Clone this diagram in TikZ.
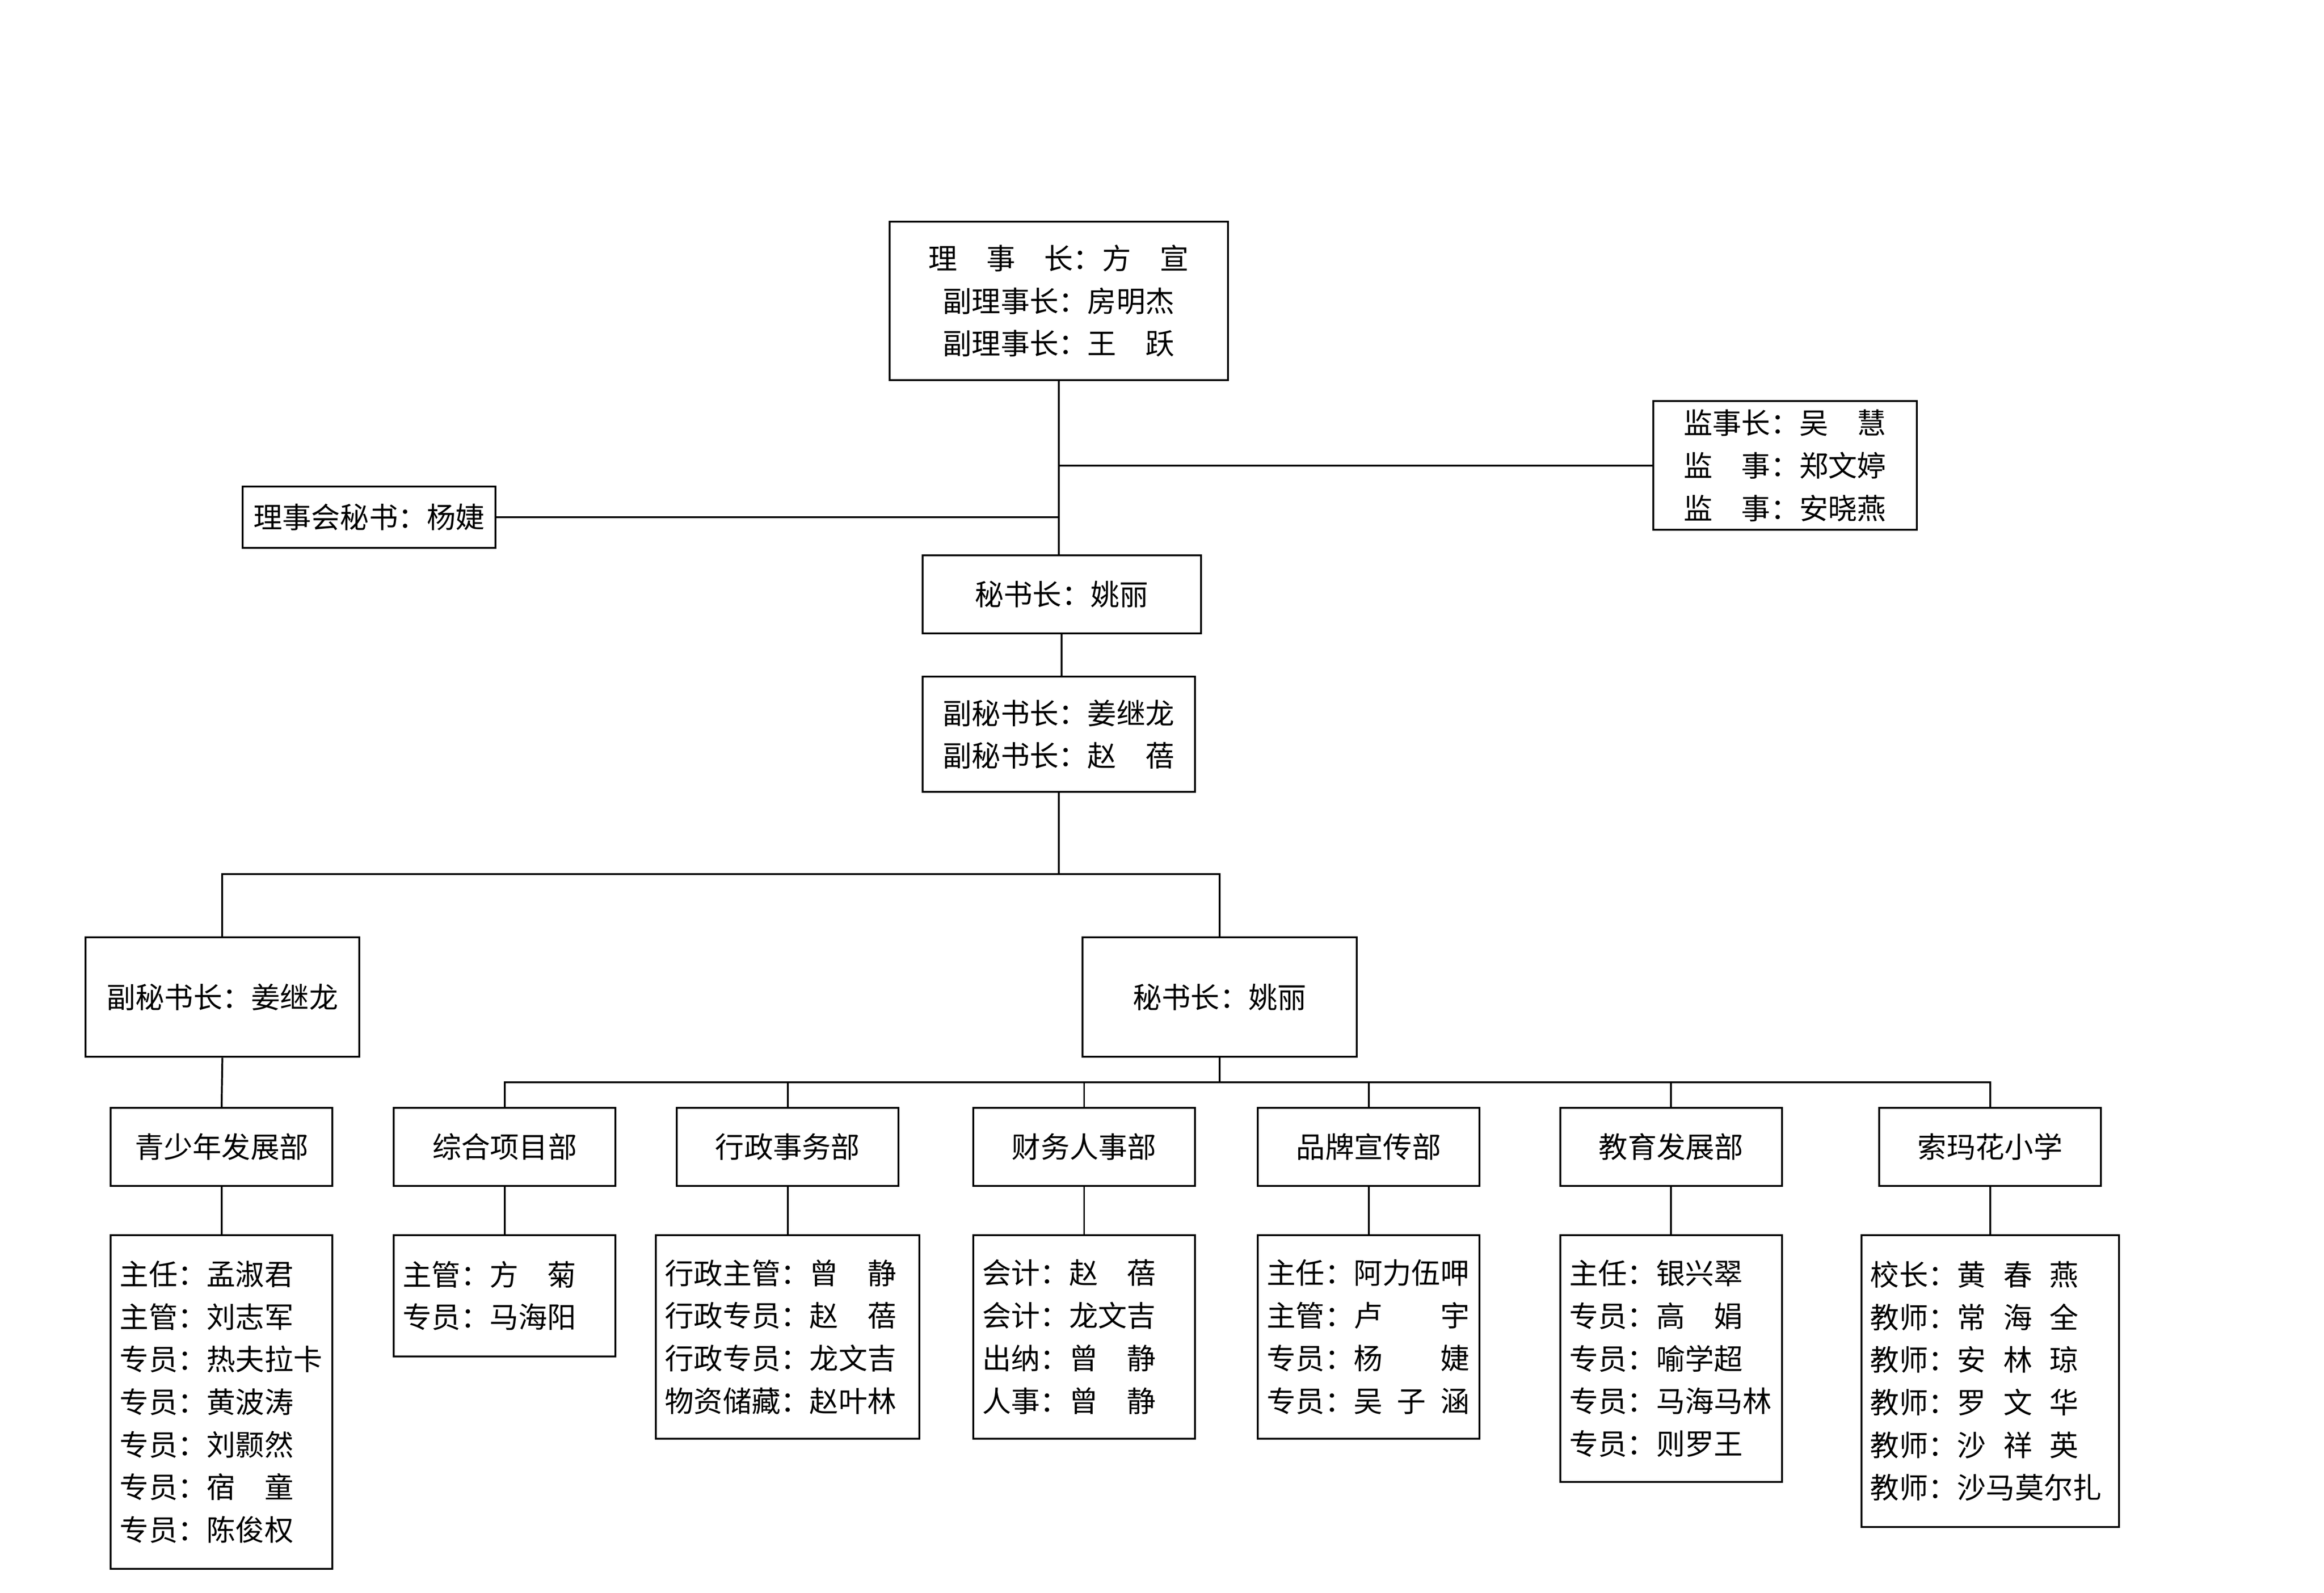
\documentclass[tikz,border=0pt]{standalone}
\usepackage{fontspec}
\setmainfont{Noto Sans CJK SC}
\begin{document}
\begin{tikzpicture}[x=0.02cm,y=-0.02cm,line width=0.7pt,
  box/.style={draw,align=center,inner sep=0pt,font=\fontsize{11pt}{16.2pt}\selectfont},
  lst/.style={draw,align=left,inner xsep=0.12cm,inner ysep=0pt,font=\fontsize{11pt}{16.2pt}\selectfont}]
\useasboundingbox (0,0) rectangle (1552,1064);
\newcommand{\hs}{\hspace{0.6em}}
\node[box,minimum width=4.52cm,minimum height=2.12cm] (top) at (707,201) {理　事　长：方　宣\\副理事长：房明杰\\副理事长：王　跃};
\node[box,minimum width=3.52cm,minimum height=1.72cm] (sup) at (1192,311) {监事长：吴　慧\\监　事：郑文婷\\监　事：安晓燕};
\node[box,minimum width=3.38cm,minimum height=0.82cm] (sec) at (246.5,345.5) {理事会秘书：杨婕};
\node[box,minimum width=3.72cm,minimum height=1.04cm] (s1) at (709,397) {秘书长：姚丽};
\node[box,minimum width=3.64cm,minimum height=1.54cm] (s2) at (707,490.5) {副秘书长：姜继龙\\副秘书长：赵　蓓};
\node[box,minimum width=3.66cm,minimum height=1.6cm] (L) at (148.5,666) {副秘书长：姜继龙};
\node[box,minimum width=3.66cm,minimum height=1.6cm] (R) at (814.5,666) {秘书长：姚丽};
\foreach \n/\x/\t in {d1/148/青少年发展部,d2/337/综合项目部,d3/526/行政事务部,d4/724/财务人事部,d5/914/品牌宣传部,d6/1116/教育发展部,d7/1329/索玛花小学}
  \node[box,minimum width=2.96cm,minimum height=1.04cm] (\n) at (\x,766) {\t};
\node[lst,text width=2.72cm,minimum height=4.46cm] (l1) at (148,936.5) {主任：孟淑君\\主管：刘志军\\专员：热夫拉卡\\专员：黄波涛\\专员：刘颢然\\专员：宿　童\\专员：陈俊权};
\node[lst,text width=2.72cm,minimum height=1.62cm] (l2) at (337,865.5) {主管：方　菊\\专员：马海阳};
\node[lst,text width=3.28cm,minimum height=2.72cm] (l3) at (526,893) {行政主管：曾　静\\行政专员：赵　蓓\\行政专员：龙文吉\\物资储藏：赵叶林};
\node[lst,text width=2.72cm,minimum height=2.72cm] (l4) at (724,893) {会计：赵　蓓\\会计：龙文吉\\出纳：曾　静\\人事：曾　静};
\node[lst,text width=2.72cm,minimum height=2.72cm] (l5) at (914,893) {主任：阿力伍呷\\主管：卢　　宇\\专员：杨　　婕\\专员：吴\hspace{0.5em}子\hspace{0.5em}涵};
\node[lst,text width=2.72cm,minimum height=3.30cm] (l6) at (1116,907.5) {主任：银兴翠\\专员：高　娟\\专员：喻学超\\专员：马海马林\\专员：则罗王};
\node[lst,text width=3.20cm,minimum height=3.90cm] (l7) at (1329,922.5) {校长：黄\hs 春\hs 燕\\教师：常\hs 海\hs 全\\教师：安\hs 林\hs 琼\\教师：罗\hs 文\hs 华\\教师：沙\hs 祥\hs 英\\教师：沙马莫尔扎};
\coordinate (v) at (top.south);
\draw (top.south) -- (top.south |- s1.north);
\draw (sup.west) -- (sup.west -| v);
\draw (sec.east) -- (sec.east -| v);
\draw (s1.south) -- (s1.south |- s2.north);
\coordinate (b1) at (707,584);
\draw (s2.south) -- (b1);
\draw (L.north) -- (L.north |- b1) -- (R.north |- b1) -- (R.north);
\draw (L.south) -- (d1.north);
\coordinate (b2) at (814.5,723);
\draw (R.south) -- (b2);
\draw (d2.north) -- (d2.north |- b2) -- (d7.north |- b2) -- (d7.north);
\foreach \d in {d3,d4,d5,d6} \draw (\d.north) -- (\d.north |- b2);
\foreach \i in {1,...,7} \draw (d\i.south) -- (l\i.north);
\end{tikzpicture}
\end{document}
